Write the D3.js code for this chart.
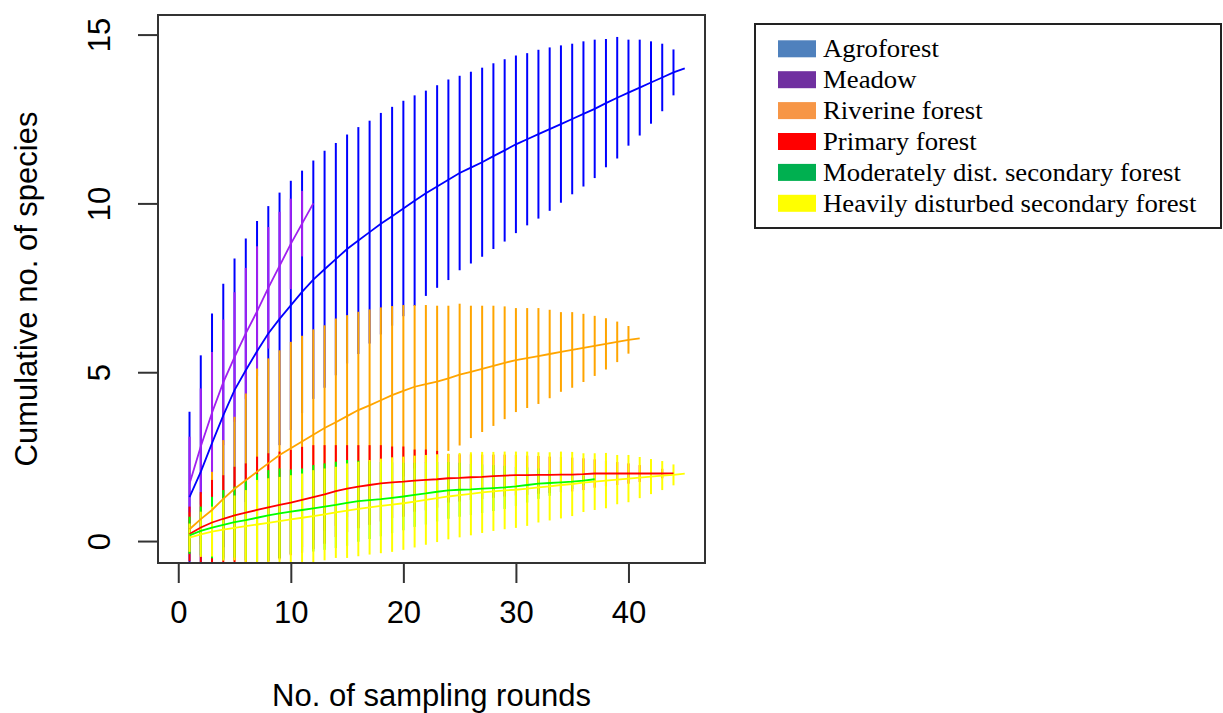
<!DOCTYPE html>
<html>
<head>
<meta charset="utf-8">
<script src="https://cdn.jsdelivr.net/npm/d3@7"></script>
<style>
  body { margin: 0; background: #fff; }
  .tick-label, .axis-title { font-family: "Liberation Sans", Arial, sans-serif; fill: #000; }
  .legend-text { font-family: "Liberation Serif", "Times New Roman", serif; fill: #000; }
</style>
</head>
<body>
<div id="chart"></div>
<script>

// Series (habitat) names, legend swatch colours and plot colours
var habitats = ["Agroforest", "Meadow", "Riverine forest", "Primary forest",
    "Moderately dist. secondary forest", "Heavily disturbed secondary forest"];
var swatchColors = ["#4f81bd", "#7030a0", "#f79646", "#ff0000", "#00b050", "#ffff00"];
var lineColors = ["#0000ff", "#a020f0", "#ffa500", "#ff0000", "#00ff00", "#ffff00"];

// Mean cumulative species per sampling round (round = index + 1)
var agroMean = [1.3, 2.05, 2.9, 3.72, 4.47, 5.06, 5.62, 6.15, 6.58, 6.98, 7.38, 7.74, 8.05, 8.35, 8.65,
    8.9, 9.15, 9.4, 9.62, 9.85, 10.08, 10.3, 10.5, 10.7, 10.9, 11.06, 11.22, 11.4, 11.57, 11.75,
    11.9, 12.05, 12.2, 12.35, 12.5, 12.65, 12.8, 12.97, 13.13, 13.28, 13.43, 13.58, 13.73, 13.88, 14.0];
var meadowMean = [1.7, 2.8, 3.8, 4.7, 5.45, 6.15, 6.8, 7.5, 8.15, 8.8, 9.4, 10.0];
var riverMean = [0.35, 0.65, 0.92, 1.25, 1.55, 1.8, 2.05, 2.3, 2.55, 2.75, 2.95, 3.15, 3.35, 3.52, 3.7,
    3.88, 4.02, 4.17, 4.32, 4.45, 4.57, 4.65, 4.72, 4.82, 4.93, 5.01, 5.1, 5.19, 5.28, 5.36,
    5.42, 5.48, 5.54, 5.6, 5.66, 5.72, 5.78, 5.84, 5.9, 5.96, 6.0];
var primaryMean = [0.21, 0.4, 0.55, 0.66, 0.76, 0.84, 0.92, 1.0, 1.07, 1.14, 1.22, 1.3, 1.38, 1.48, 1.55,
    1.61, 1.66, 1.71, 1.74, 1.76, 1.79, 1.81, 1.83, 1.86, 1.87, 1.89, 1.9, 1.92, 1.94, 1.95,
    1.95, 1.96, 1.96, 1.97, 1.97, 1.98, 2.0, 2.0, 2.0, 2.0, 2.0, 2.0, 2.0, 2.0];
var moderateMean = [0.17, 0.3, 0.4, 0.48, 0.56, 0.62, 0.69, 0.76, 0.82, 0.87, 0.92, 0.97, 1.02, 1.07, 1.13,
    1.18, 1.21, 1.24, 1.28, 1.32, 1.37, 1.41, 1.46, 1.5, 1.52, 1.53, 1.55, 1.57, 1.59, 1.62,
    1.66, 1.7, 1.72, 1.74, 1.76, 1.79, 1.83];
var heavyMean = [0.1, 0.2, 0.28, 0.34, 0.39, 0.44, 0.49, 0.54, 0.59, 0.64, 0.69, 0.74, 0.79, 0.85, 0.9,
    0.95, 1.0, 1.04, 1.08, 1.12, 1.17, 1.22, 1.27, 1.32, 1.36, 1.4, 1.44, 1.47, 1.5, 1.52,
    1.55, 1.59, 1.62, 1.66, 1.69, 1.73, 1.76, 1.79, 1.82, 1.85, 1.88, 1.91, 1.94, 1.96, 2.0];

// Half-width of the error bar (mean +/- ci)
var agroCi = [2.53, 3.45, 3.84, 3.9, 3.9, 3.9, 3.86, 3.77, 3.74, 3.69, 3.59, 3.53, 3.51, 3.44, 3.39,
    3.36, 3.3, 3.28, 3.24, 3.19, 3.12, 3.04, 3.0, 2.97, 2.88, 2.84, 2.8, 2.75, 2.7, 2.63,
    2.55, 2.5, 2.42, 2.33, 2.23, 2.15, 2.05, 1.9, 1.8, 1.57, 1.42, 1.22, 1.0, 0.68, 0];
var meadowCi = [1.39, 1.72, 1.8, 1.86, 1.92, 1.94, 1.93, 1.8, 1.6, 1.34, 0.97, 0];
var riverCi = [0.5, 0.75, 1.13, 1.74, 2.13, 2.57, 3.06, 3.11, 3.1, 3.15, 3.13, 3.12, 3.04, 3.07, 2.99,
    2.91, 2.84, 2.75, 2.64, 2.54, 2.42, 2.34, 2.25, 2.15, 2.1, 1.96, 1.87, 1.78, 1.67, 1.54,
    1.48, 1.42, 1.31, 1.18, 1.12, 1.01, 0.89, 0.76, 0.6, 0.41, 0];
var primaryCi = [0.81, 1.05, 1.26, 1.29, 1.44, 1.46, 1.58, 1.6, 1.58, 1.56, 1.57, 1.54, 1.46, 1.36, 1.29,
    1.23, 1.18, 1.13, 1.06, 1.04, 0.92, 0.9, 0.84, 0.72, 0.7, 0.68, 0.66, 0.64, 0.62, 0.6,
    0.58, 0.56, 0.54, 0.52, 0.5, 0.47, 0.42, 0.38, 0.34, 0.3, 0.25, 0.2, 0.14, 0];
var moderateCi = [0.55, 0.72, 0.91, 1.03, 1.05, 1.19, 1.3, 1.34, 1.33, 1.25, 1.23, 1.28, 1.28, 1.28, 1.27,
    1.2, 1.15, 1.1, 1.05, 1.0, 0.95, 0.92, 0.88, 0.84, 0.8, 0.76, 0.72, 0.68, 0.64, 0.58,
    0.52, 0.45, 0.38, 0.3, 0.22, 0.14, 0];
var heavyCi = [0.42, 0.67, 0.74, 0.92, 0.96, 1.07, 1.32, 1.32, 1.31, 1.31, 1.31, 1.36, 1.36, 1.35, 1.4,
    1.4, 1.4, 1.4, 1.4, 1.38, 1.36, 1.33, 1.3, 1.27, 1.25, 1.23, 1.2, 1.17, 1.15, 1.13,
    1.1, 1.04, 1.01, 0.99, 0.95, 0.87, 0.84, 0.82, 0.73, 0.7, 0.61, 0.52, 0.43, 0.31, 0];

var xTicks = [0, 10, 20, 30, 40];
var yTicks = [0, 5, 10, 15];

var means = [agroMean, meadowMean, riverMean, primaryMean, moderateMean, heavyMean];
var cis = [agroCi, meadowCi, riverCi, primaryCi, moderateCi, heavyCi];

var series = habitats.map(function (name, k) {
    return {
        name: name,
        color: lineColors[k],
        values: means[k].map(function (m, i) {
            return { round: i + 1, mean: m, ci: cis[k][i] };
        })
    };
});

var width = 1223, height = 713;
var plot = { left: 158, right: 705, top: 15, bottom: 563 };

var svg = d3.select("#chart").append("svg")
    .attr("width", width)
    .attr("height", height)
    .style("display", "block");

svg.append("rect").attr("width", width).attr("height", height).attr("fill", "#fff");

// Scales (R style: data range padded by 4%)
var x = d3.scaleLinear().domain([-1.8, 46.8]).range([plot.left, plot.right]);
var y = d3.scaleLinear().domain([-0.65, 15.58]).range([plot.bottom, plot.top]);

svg.append("clipPath").attr("id", "plot-clip")
    .append("rect")
    .attr("x", plot.left).attr("y", plot.top)
    .attr("width", plot.right - plot.left).attr("height", plot.bottom - plot.top);

var area = svg.append("g").attr("clip-path", "url(#plot-clip)");

// Error bars first, series in order
series.forEach(function (s) {
    area.append("g").selectAll("line")
        .data(s.values.filter(function (d) { return d.ci > 0; }))
        .enter().append("line")
        .attr("x1", function (d) { return x(d.round); })
        .attr("x2", function (d) { return x(d.round); })
        .attr("y1", function (d) { return y(d.mean + d.ci); })
        .attr("y2", function (d) { return y(d.mean - d.ci); })
        .attr("stroke", s.color)
        .attr("stroke-width", 2);
});

// Mean curves on top
var line = d3.line()
    .x(function (d) { return x(d.round); })
    .y(function (d) { return y(d.mean); });

series.forEach(function (s) {
    area.append("path")
        .attr("d", line(s.values))
        .attr("fill", "none")
        .attr("stroke", s.color)
        .attr("stroke-width", 1.8);
});

// Plot frame
svg.append("rect")
    .attr("x", plot.left).attr("y", plot.top)
    .attr("width", plot.right - plot.left).attr("height", plot.bottom - plot.top)
    .attr("fill", "none").attr("stroke", "#333").attr("stroke-width", 2);

// X axis
var xAxis = d3.axisBottom(x).tickValues(xTicks).tickSize(20).tickPadding(12);
var gx = svg.append("g").attr("transform", "translate(0," + plot.bottom + ")").call(xAxis);
gx.select(".domain").attr("d", "M" + x(0) + ",0H" + x(40)).attr("stroke", "#333").attr("stroke-width", 2);
gx.selectAll(".tick line").attr("stroke", "#333").attr("stroke-width", 2);
gx.selectAll(".tick text")
    .attr("class", "tick-label")
    .attr("dy", null)
    .attr("y", 60)
    .style("font-size", "31px");

// Y axis (labels parallel to the axis)
var yAxis = d3.axisLeft(y).tickValues(yTicks).tickSize(20);
var gy = svg.append("g").attr("transform", "translate(" + plot.left + ",0)").call(yAxis);
gy.select(".domain").attr("d", "M0," + y(0) + "V" + y(15)).attr("stroke", "#333").attr("stroke-width", 2);
gy.selectAll(".tick line").attr("stroke", "#333").attr("stroke-width", 2);
gy.selectAll(".tick text")
    .attr("class", "tick-label")
    .attr("x", null).attr("dy", null)
    .attr("text-anchor", "middle")
    .attr("transform", "translate(-48,0) rotate(-90)")
    .style("font-size", "31px");

// Axis titles
svg.append("text")
    .attr("class", "axis-title")
    .attr("x", (plot.left + plot.right) / 2)
    .attr("y", 706)
    .attr("text-anchor", "middle")
    .style("font-size", "31px")
    .text("No. of sampling rounds");

svg.append("text")
    .attr("class", "axis-title")
    .attr("transform", "translate(37," + (plot.top + plot.bottom) / 2 + ") rotate(-90)")
    .attr("text-anchor", "middle")
    .style("font-size", "31px")
    .text("Cumulative no. of species");

// Legend
var legend = svg.append("g");
legend.append("rect")
    .attr("x", 755).attr("y", 24)
    .attr("width", 466).attr("height", 204)
    .attr("fill", "#fff").attr("stroke", "#222").attr("stroke-width", 2);

var rowH = 30.9;
var items = legend.selectAll(".item")
    .data(habitats)
    .enter().append("g")
    .attr("transform", function (d, i) { return "translate(0," + (57.3 + i * rowH) + ")"; });

items.append("rect")
    .attr("x", 778).attr("y", -17)
    .attr("width", 38).attr("height", 17)
    .attr("fill", function (d, i) { return swatchColors[i]; });

// legend type in the source is a little wider than Liberation Serif
items.append("text")
    .attr("class", "legend-text")
    .attr("transform", "translate(823,0) scale(1.07,1)")
    .style("font-size", "25px")
    .text(function (d) { return d; });

</script>
</body>
</html>
